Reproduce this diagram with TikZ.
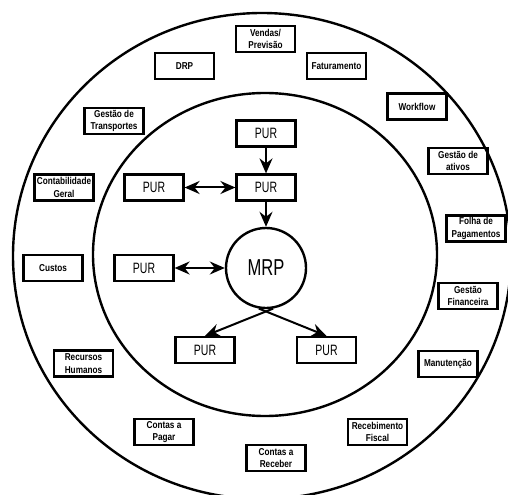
\documentclass[tikz,border=0pt]{standalone}
\usepackage{fontspec}
\usetikzlibrary{arrows.meta}
% condensed sans faces for the module labels
\newfontfamily\modfont{Liberation Sans}[FakeStretch=0.82]
\newfontfamily\purfont{Liberation Sans}[FakeStretch=0.70]
\newfontfamily\mrpfont{Liberation Sans}[FakeStretch=0.72]

\begin{document}
\begin{tikzpicture}[x=1bp,y=-1bp,
  modbox/.style={draw, line width=2.2bp, minimum width=59bp, minimum height=26bp,
    inner sep=0pt, align=center,
    font=\modfont\bfseries\fontsize{10bp}{12.8bp}\selectfont},
  purbox/.style={draw, line width=2.2bp, minimum width=59bp, minimum height=26bp,
    inner sep=0pt, font=\purfont\fontsize{15bp}{17bp}\selectfont},
  ring/.style={line width=2.4bp},
  tip/.tip={Stealth[length=15bp,width=13bp,inset=5bp]},
  link/.style={line width=2bp, -tip},
  duallink/.style={line width=2bp, tip-tip},
]
\useasboundingbox (0,0) rectangle (508,495);

% the two rings
\begin{scope}
  \clip (0,0) rectangle (508,495);
  \draw[ring] (262,256) ellipse [x radius=249, y radius=243];
  \draw[ring] (265,254.5) ellipse [x radius=172, y radius=161.5];
\end{scope}

% core
\node[draw, circle, line width=2.4bp, minimum size=80bp, inner sep=0pt,
      font=\mrpfont\fontsize{23bp}{25bp}\selectfont] (mrp) at (266,268) {MRP};

\node[purbox] (p1) at (266,133.5) {PUR};
\node[purbox] (p2) at (266,187.5) {PUR};
\node[purbox] (p3) at (154,187.5) {PUR};
\node[purbox] (p4) at (144,268)   {PUR};
\node[purbox] (p5) at (205,350)   {PUR};
\node[purbox] (p6) at (326.5,350) {PUR};

\draw[link] (p1) -- (p2);
\draw[link] (p2) -- (mrp);
\draw[duallink] (p3) -- (p2);
\draw[duallink] (p4) -- (mrp);
\draw[link] (mrp.-80) -- (p5.north);
\draw[link] (mrp.-100) -- (p6.north);

% surrounding modules
\node[modbox] (vendas) at (265.5,39)  {Vendas/\\Previsão};
\node[modbox] (drp)    at (184.5,66)  {DRP};
\node[modbox] (fat)    at (336.5,66)  {Faturamento};
\node[modbox] (transp) at (114,121)   {Gestão de\\Transportes};
\node[modbox] (work)   at (417,106.5) {Workflow};
\node[modbox] (contab) at (64,187.5)  {Contabilidade\\Geral};
\node[modbox] (ativos) at (458,161)   {Gestão de\\ativos};
\node[modbox] (folha)  at (476,228.5) {Folha de\\Pagamentos};
\node[modbox] (custos) at (53,268)    {Custos};
\node[modbox] (fin)    at (468,296)   {Gestão\\Financeira};
\node[modbox] (rh)     at (83.5,363.5){Recursos\\Humanos};
\node[modbox] (manut)  at (448,364)   {Manutenção};
\node[modbox] (pagar)  at (164,432)   {Contas a\\Pagar};
\node[modbox] (fiscal) at (377.5,432) {Recebimento\\Fiscal};
\node[modbox] (receb)  at (276,458)   {Contas a\\Receber};
\end{tikzpicture}
\end{document}
